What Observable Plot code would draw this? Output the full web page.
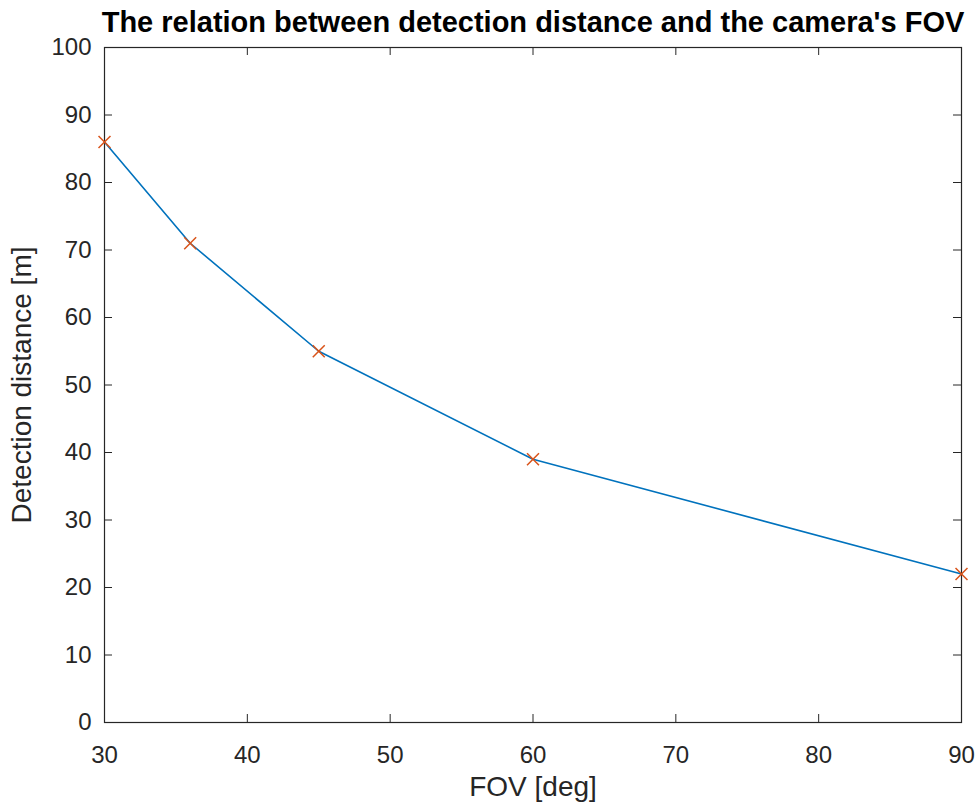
<!DOCTYPE html>
<html>
<head>
<meta charset="utf-8">
<script src="https://cdn.jsdelivr.net/npm/d3@7"></script>
<script src="https://cdn.jsdelivr.net/npm/@observablehq/plot@0.6"></script>
<style>
  html, body { margin: 0; padding: 0; background: #fff; }
  #chart svg { display: block; }
</style>
</head>
<body>
<div id="chart"></div>
<script>
const fov = [30, 36, 45, 60, 90];
const distance = [86, 71, 55, 39, 22];
const xTicks = [30, 40, 50, 60, 70, 80, 90];
const yTicks = [0, 10, 20, 30, 40, 50, 60, 70, 80, 90, 100];
const titleText = "The relation between detection distance and the camera's FOV";
const xLabel = "FOV [deg]";
const yLabel = "Detection distance [m]";

const data = fov.map((f, i) => ({fov: f, distance: distance[i]}));

const W = 977, H = 808;
const mL = 104, mR = 16, mT = 47, mB = 86;
const pw = W - mL - mR, ph = H - mT - mB;
const tick = 8;
const ink = "#262626";

const chart = Plot.plot({
  width: W,
  height: H,
  marginLeft: mL,
  marginRight: mR,
  marginTop: mT,
  marginBottom: mB,
  style: {fontFamily: "'Liberation Sans', Arial, Helvetica, sans-serif", background: "#fff", color: ink},
  x: {domain: [30, 90]},
  y: {domain: [0, 100]},
  marks: [
    Plot.axisX({ticks: xTicks, tickSize: 0, tickPadding: 23, fontSize: 24, label: null, fill: ink}),
    Plot.axisY({ticks: yTicks, tickSize: 0, tickPadding: 13, fontSize: 24, label: null, fill: ink}),
    Plot.tickX(xTicks, {x: d => d, insetTop: ph - tick, stroke: ink, strokeWidth: 1}),
    Plot.tickX(xTicks, {x: d => d, insetBottom: ph - tick, stroke: ink, strokeWidth: 1}),
    Plot.tickY(yTicks, {y: d => d, insetRight: pw - tick, stroke: ink, strokeWidth: 1}),
    Plot.tickY(yTicks, {y: d => d, insetLeft: pw - tick, stroke: ink, strokeWidth: 1}),
    Plot.frame({stroke: ink, strokeWidth: 1.2}),
    Plot.line(data, {x: "fov", y: "distance", stroke: "#0072BD", strokeWidth: 1.6}),
    Plot.dot(data, {x: "fov", y: "distance", symbol: "times", r: 5.5, stroke: "#D95319", strokeWidth: 1.5}),
    Plot.text([titleText], {text: d => d, frameAnchor: "top", lineAnchor: "top", dy: -36, fontSize: 29, fontWeight: "bold", fill: "#000"}),
    Plot.text([xLabel], {text: d => d, frameAnchor: "bottom", lineAnchor: "middle", dy: 65, fontSize: 28, fill: ink}),
    Plot.text([yLabel], {text: d => d, frameAnchor: "left", textAnchor: "middle", lineAnchor: "middle", dx: -82, rotate: -90, fontSize: 28, fill: ink})
  ]
});
document.getElementById("chart").appendChild(chart);
</script>
</body>
</html>
